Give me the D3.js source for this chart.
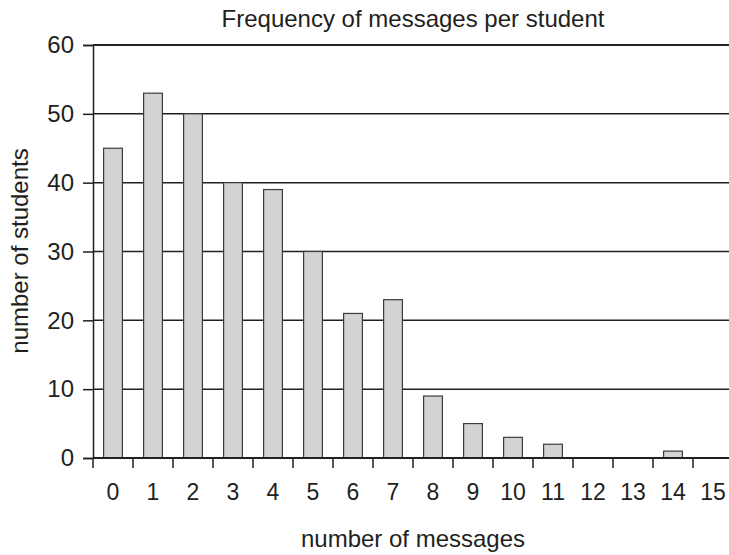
<!DOCTYPE html>
<html>
<head>
<meta charset="utf-8">
<script src="https://cdn.jsdelivr.net/npm/d3@7"></script>
<style>
  body { margin: 0; background: #fff; }
  text { font-family: "Liberation Sans", Arial, sans-serif; fill: #231f20; }
</style>
</head>
<body>
<div id="chart"></div>
<script>
const messages = ["0","1","2","3","4","5","6","7","8","9","10","11","12","13","14","15"];
const students = [45, 53, 50, 40, 39, 30, 21, 23, 9, 5, 3, 2, 0, 0, 1, 0];
const yTicks = [0, 10, 20, 30, 40, 50, 60];

const margin = { top: 45, right: -4, bottom: 97, left: 93 };
const width = 729 - margin.left - margin.right,
      height = 555 - margin.top - margin.bottom;

const svg = d3.select("#chart").append("svg")
    .attr("width", 729)
    .attr("height", 555);

const g = svg.append("g")
    .attr("transform", "translate(" + margin.left + "," + margin.top + ")");

const xScale = d3.scaleBand().domain(messages).range([0, width]).paddingInner(0.53).paddingOuter(0.265);
const yScale = d3.scaleLinear().domain([0, 60]).range([height, 0]);

// horizontal grid lines
g.append("g").selectAll("line")
    .data(yTicks.filter(d => d > 0))
    .join("line")
    .attr("x1", 0).attr("x2", width)
    .attr("y1", d => yScale(d)).attr("y2", d => yScale(d))
    .attr("stroke", "#231f20")
    .attr("stroke-width", d => d === 60 ? 2.2 : 1.5);

g.selectAll(".bar")
    .data(students)
    .join("rect")
    .attr("class", "bar")
    .attr("x", (d, i) => xScale(messages[i]))
    .attr("width", xScale.bandwidth())
    .attr("y", d => yScale(d))
    .attr("height", d => height - yScale(d))
    .attr("fill", "#d3d3d5")
    .attr("stroke", "#3c3c3c")
    .attr("stroke-width", 1.2);

// y axis
const yAxis = d3.axisLeft(yScale).tickValues(yTicks).tickSize(10).tickPadding(9);
g.append("g").attr("class", "axis y-axis").call(yAxis)
    .call(a => a.select(".domain").attr("stroke", "#231f20").attr("stroke-width", 1.5))
    .call(a => a.selectAll(".tick line").attr("stroke", "#231f20").attr("stroke-width", 1.5))
    .call(a => a.selectAll(".tick text").style("font-size", "24px"));

// x axis: ticks at band boundaries, labels centered
const xg = g.append("g").attr("class", "axis x-axis").attr("transform", `translate(0, ${height})`);
xg.append("line").attr("x1", 0).attr("x2", width).attr("stroke", "#231f20").attr("stroke-width", 1.8);
const step = xScale.step();
xg.selectAll(".xt")
    .data(messages)
    .join("line")
    .attr("class", "xt")
    .attr("x1", (d) => xScale(d) - step * xScale.paddingInner() / 2)
    .attr("x2", (d) => xScale(d) - step * xScale.paddingInner() / 2)
    .attr("y1", 0).attr("y2", 10)
    .attr("stroke", "#231f20").attr("stroke-width", 1.5);
xg.selectAll(".xl")
    .data(messages)
    .join("text")
    .attr("class", "xl")
    .attr("x", d => xScale(d) + xScale.bandwidth() / 2)
    .attr("y", 42)
    .attr("text-anchor", "middle")
    .style("font-size", "23px")
    .text(d => d);

svg.append("text")
    .attr("x", margin.left + (733 - 93) / 2)
    .attr("y", 27)
    .attr("text-anchor", "middle")
    .style("font-size", "24px")
    .text("Frequency of messages per student");

svg.append("text")
    .attr("x", margin.left + (733 - 93) / 2)
    .attr("y", 547)
    .attr("text-anchor", "middle")
    .style("font-size", "24px")
    .text("number of messages");

svg.append("text")
    .attr("transform", "translate(28, 251) rotate(-90)")
    .attr("text-anchor", "middle")
    .style("font-size", "24px")
    .text("number of students");
</script>
</body>
</html>
